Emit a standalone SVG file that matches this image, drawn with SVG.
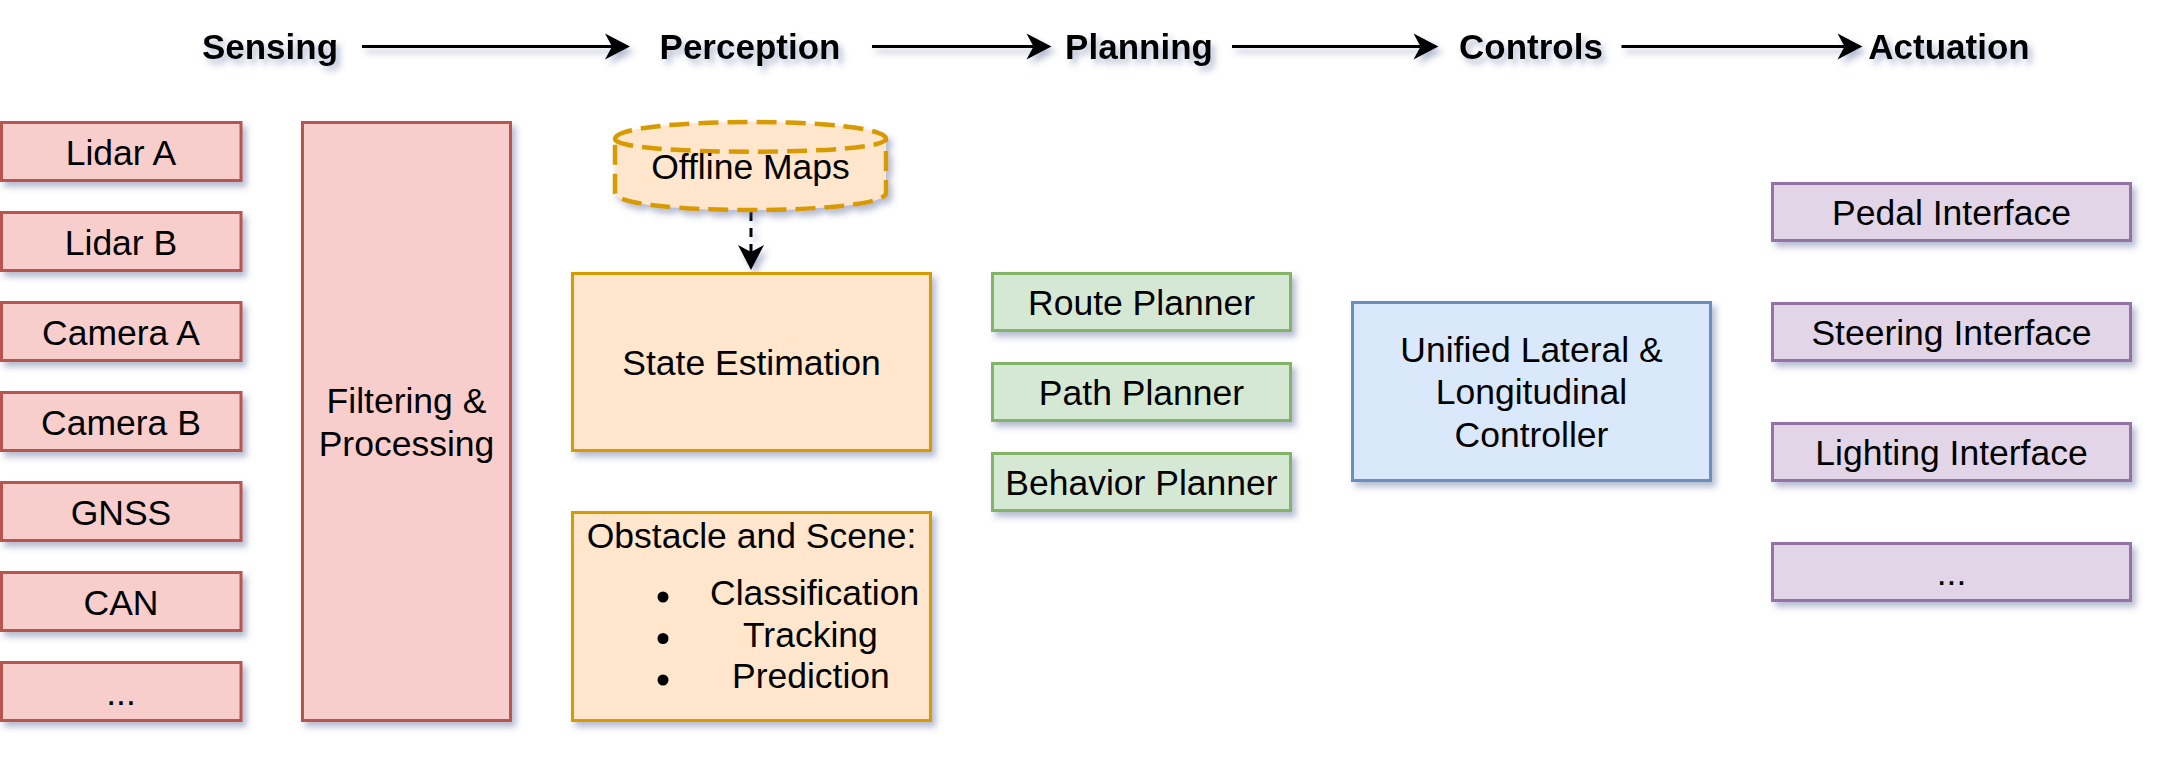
<svg xmlns="http://www.w3.org/2000/svg" width="2169" height="768" viewBox="0 0 2169 768">
<defs>
<style>
text{font-family:"Liberation Sans",Arial,Helvetica,sans-serif;fill:#000;}
.t{font-size:35.5px;text-anchor:middle;}
.ts{font-size:35.5px;}
.h{font-size:35px;font-weight:bold;text-anchor:middle;}
.red{fill:#f8cecc;stroke:#b85450;stroke-width:3;}
.org{fill:#ffe6cc;stroke:#d79b00;stroke-width:3;}
.grn{fill:#d5e8d4;stroke:#82b366;stroke-width:3;}
.blu{fill:#dae8fc;stroke:#6c8ebf;stroke-width:3;}
.pur{fill:#e1d5e7;stroke:#9673a6;stroke-width:3;}
.cyl{fill:#ffe6cc;stroke:#d79b00;stroke-width:4.5;stroke-dasharray:20 9;}
.flow{stroke:#000;stroke-width:3;fill:none;marker-end:url(#arr);}
.dash{stroke:#000;stroke-width:3;fill:none;stroke-dasharray:9 7;marker-end:url(#arr);}
.sh{filter:url(#shadow);}
</style>
<filter id="shadow" x="-20%" y="-20%" width="150%" height="160%">
<feDropShadow dx="4" dy="5" stdDeviation="3" flood-color="#4b5a8c" flood-opacity="0.4"/>
</filter>
<marker id="arr" viewBox="0 0 26 28" refX="8" refY="14" markerWidth="26" markerHeight="28" markerUnits="userSpaceOnUse" orient="auto">
<path d="M26,14 L1,1 L8,14 L1,27 Z" fill="#000"/>
</marker>
</defs>
<rect width="2169" height="768" fill="#ffffff"/>

<g id="connectors" class="sh">
<line class="flow" x1="362" y1="46.5" x2="612" y2="46.5"/>
<line class="flow" x1="872" y1="46.5" x2="1033.5" y2="46.5"/>
<line class="flow" x1="1232" y1="46.5" x2="1420.5" y2="46.5"/>
<line class="flow" x1="1621.5" y1="46.5" x2="1844.5" y2="46.5"/>
<line class="dash" x1="751" y1="212" x2="751" y2="252"/>
</g>

<g id="stage-labels" class="sh">
<text id="lbl-sensing" class="h" x="270" y="59">Sensing</text>
<text id="lbl-perception" class="h" x="750" y="59">Perception</text>
<text id="lbl-planning" class="h" x="1139" y="59">Planning</text>
<text id="lbl-controls" class="h" x="1531" y="59">Controls</text>
<text id="lbl-actuation" class="h" x="1949" y="59">Actuation</text>
</g>

<g id="lidar-a"><rect class="red sh" x="1.5" y="122.5" width="239.5" height="58"/><text class="t" x="121" y="164.5">Lidar A</text></g>
<g id="lidar-b"><rect class="red sh" x="1.5" y="212.5" width="239.5" height="58"/><text class="t" x="121" y="254.5">Lidar B</text></g>
<g id="camera-a"><rect class="red sh" x="1.5" y="302.5" width="239.5" height="58"/><text class="t" x="121" y="344.5">Camera A</text></g>
<g id="camera-b"><rect class="red sh" x="1.5" y="392.5" width="239.5" height="58"/><text class="t" x="121" y="434.5">Camera B</text></g>
<g id="gnss"><rect class="red sh" x="1.5" y="482.5" width="239.5" height="58"/><text class="t" x="121" y="524.5">GNSS</text></g>
<g id="can"><rect class="red sh" x="1.5" y="572.5" width="239.5" height="58"/><text class="t" x="121" y="614.5">CAN</text></g>
<g id="sensing-more"><rect class="red sh" x="1.5" y="662.5" width="239.5" height="58"/><text class="t" x="121" y="704.5">...</text></g>

<g id="filtering"><rect class="red sh" x="302.5" y="122.5" width="208" height="598"/><text class="t" x="406.5" y="413">Filtering &amp;</text><text class="t" x="406.5" y="455.5">Processing</text></g>

<g id="offline-maps">
<path class="cyl sh" d="M615,139 C615,116.33 886,116.33 886,139 L886,193 C886,215.67 615,215.67 615,193 Z"/>
<path class="cyl" style="fill:none" d="M615,139 C615,156 886,156 886,139"/>
<text class="t" x="750.5" y="179">Offline Maps</text>
</g>

<g id="state-estimation"><rect class="org sh" x="572.5" y="273.5" width="358" height="177"/><text class="t" x="751.5" y="374.5">State Estimation</text></g>

<g id="obstacle-scene">
<rect class="org sh" x="572.5" y="512.5" width="358" height="208"/>
<text class="t" x="751.5" y="548">Obstacle and Scene:</text>
<circle cx="663" cy="597" r="5.5" fill="#000"/>
<circle cx="663" cy="638.5" r="5.5" fill="#000"/>
<circle cx="663" cy="680" r="5.5" fill="#000"/>
<text class="ts" x="710" y="605">Classification</text>
<text class="ts" x="743" y="646.5">Tracking</text>
<text class="ts" x="732" y="688">Prediction</text>
</g>

<g id="route-planner"><rect class="grn sh" x="992.5" y="273.5" width="298" height="57"/><text class="t" x="1141.5" y="314.5">Route Planner</text></g>
<g id="path-planner"><rect class="grn sh" x="992.5" y="363.5" width="298" height="57"/><text class="t" x="1141.5" y="404.5">Path Planner</text></g>
<g id="behavior-planner"><rect class="grn sh" x="992.5" y="453.5" width="298" height="57"/><text class="t" x="1141.5" y="494.5">Behavior Planner</text></g>

<g id="controller"><rect class="blu sh" x="1352.5" y="302.5" width="358" height="178"/>
<text class="t" x="1531.5" y="362">Unified Lateral &amp;</text>
<text class="t" x="1531.5" y="404">Longitudinal</text>
<text class="t" x="1531.5" y="446.5">Controller</text>
</g>

<g id="pedal-interface"><rect class="pur sh" x="1772.5" y="183.5" width="358" height="57"/><text class="t" x="1951.5" y="224.5">Pedal Interface</text></g>
<g id="steering-interface"><rect class="pur sh" x="1772.5" y="303.5" width="358" height="57"/><text class="t" x="1951.5" y="344.5">Steering Interface</text></g>
<g id="lighting-interface"><rect class="pur sh" x="1772.5" y="423.5" width="358" height="57"/><text class="t" x="1951.5" y="464.5">Lighting Interface</text></g>
<g id="actuation-more"><rect class="pur sh" x="1772.5" y="543.5" width="358" height="57"/><text class="t" x="1951.5" y="584.5">...</text></g>
</svg>
